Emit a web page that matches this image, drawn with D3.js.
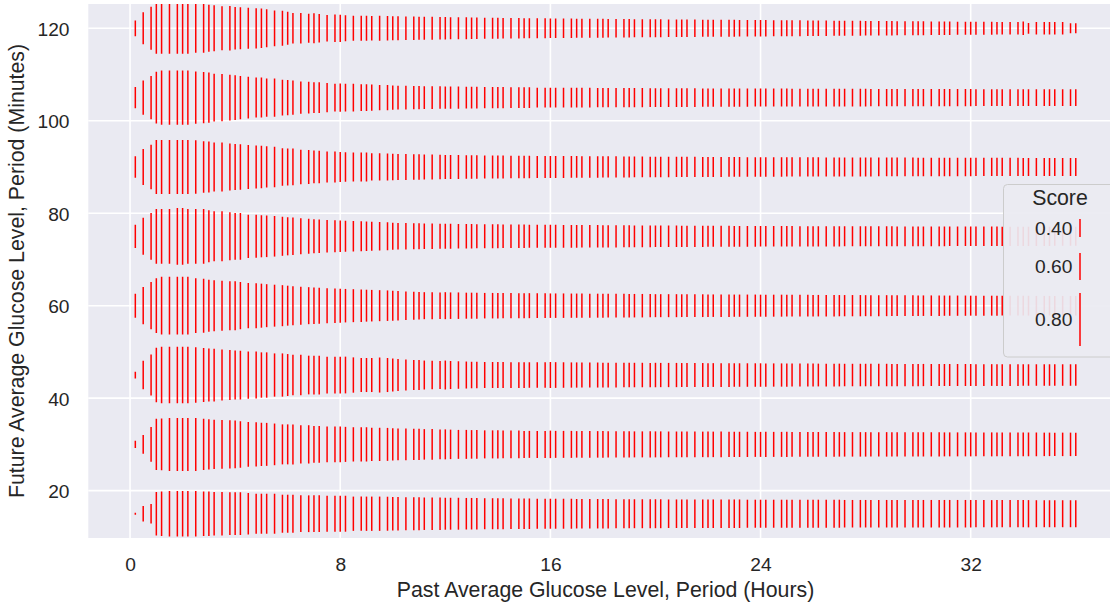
<!DOCTYPE html>
<html>
<head>
<meta charset="utf-8">
<script src="https://cdn.jsdelivr.net/npm/d3@7"></script>
<style>
  html, body { margin: 0; padding: 0; background: #ffffff; }
  svg { display: block; }
  text { font-family: "Liberation Sans", Arial, sans-serif; fill: #262626; }
</style>
</head>
<body>
<svg id="chart" width="1110" height="606"></svg>
<script>
// Past averaging period (hours) on the x axis
const periodHours = [
  0.2, 0.5, 0.8,
  1.0, 1.2, 1.5, 1.8, 2.0, 2.2, 2.5, 2.8, 3.0, 3.2, 3.5, 3.8, 4.0, 4.2, 4.5, 4.8,
  5.0, 5.2, 5.5, 5.8, 6.0, 6.2, 6.5, 6.8, 7.0, 7.2, 7.5, 7.8, 8.0, 8.2, 8.5, 8.8,
  9.0, 9.2, 9.5, 9.8, 10.0, 10.2, 10.5, 10.8, 11.0, 11.2, 11.5, 11.8, 12.0, 12.2, 12.5, 12.8,
  13.0, 13.2, 13.5, 13.8, 14.0, 14.2, 14.5, 14.8, 15.0, 15.2, 15.5, 15.8, 16.0, 16.2, 16.5, 16.8,
  17.0, 17.2, 17.5, 17.8, 18.0, 18.2, 18.5, 18.8, 19.0, 19.2, 19.5, 19.8, 20.0, 20.2, 20.5, 20.8,
  21.0, 21.2, 21.5, 21.8, 22.0, 22.2, 22.5, 22.8, 23.0, 23.2, 23.5, 23.8, 24.0, 24.2, 24.5, 24.8,
  25.0, 25.2, 25.5, 25.8, 26.0, 26.2, 26.5, 26.8, 27.0, 27.2, 27.5, 27.8, 28.0, 28.2, 28.5, 28.8,
  29.0, 29.2, 29.5, 29.8, 30.0, 30.2, 30.5, 30.8, 31.0, 31.2, 31.5, 31.8, 32.0, 32.2, 32.5, 32.8,
  33.0, 33.2, 33.5, 33.8, 34.0, 34.2, 34.5, 34.8, 35.0, 35.2, 35.5, 35.8, 36.0
];

// Future averaging period (minutes) on the y axis
const futureMinutes = [15, 30, 45, 60, 75, 90, 105, 120];

// Score for each (past, future) pair, one array per future period
const score15 = [
  .044, .34, .429, .727, .735, .742, .742, .742, .742, .742, .735, .735, .727, .727, .721, .721, .721, .710, .7,
  .7, .7, .7, .685, .685, .685, .675, .675, .675, .675, .669, .669, .669, .669, .656, .656,
  .656, .656, .656, .654,
  .650, .650, .646, .646, .646, .642, .642, .642, .638, .638, .638, .635,
  .635, .635, .631, .631, .631, .631, .627, .627, .627, .627, .623, .623, .623, .623, .623, .623,
  .619, .619, .619, .619, .619, .619, .615, .615, .615, .615, .615, .615, .615, .615, .612, .612,
  .612, .612, .612, .612, .612, .612, .612, .612, .612, .612, .608, .608, .608, .608, .608, .608,
  .608, .608, .608, .608, .608, .608, .608, .608, .608, .604, .604, .604, .604, .604, .604, .604,
  .604, .604, .604, .604, .604, .604, .604, .604, .604, .604, .604, .604, .604, .602, .602, .602,
  .602, .602, .602, .602, .602, .602, .6, .6, .6, .6, .6, .6, .6
];
const score30 = [
  .16, .422, .659, .785, .792, .8, .8, .8, .8, .8, .785, .777, .773, .769, .762, .758, .750, .738, .731,
  .725, .723, .713, .7, .7, .7, .687, .687, .675, .675, .669, .669, .669, .662, .656, .656,
  .656, .648, .648, .646,
  .642, .638, .635, .631, .631, .627, .627, .623, .623, .619, .615, .615,
  .612, .612, .608, .608, .608, .604, .604, .604, .6, .6, .6, .6, .604, .6, .6, .6,
  .589, .589, .589, .589, .589, .583, .583, .583, .583, .578, .578, .578, .578, .578, .572, .572,
  .572, .572, .567, .567, .567, .567, .567, .561, .561, .561, .561, .556, .556, .556, .556, .556,
  .556, .55, .55, .55, .55, .55, .55, .55, .544, .544, .544, .544, .544, .544, .544, .544,
  .539, .539, .539, .539, .539, .539, .539, .539, .533, .533, .533, .533, .533, .533, .533, .533,
  .528, .528, .528, .528, .528, .528, .528, .522, .522, .522, .522, .522, .522
];
const score45 = [
  .149, .612, .708, .813, .828, .828, .828, .828, .828, .818, .808, .8, .798, .785, .777, .769, .767, .756, .754,
  .741, .741, .725, .725, .715, .705, .705, .690, .690, .690, .675, .675, .675, .675, .664, .654,
  .654, .654, .662, .654,
  .646, .638, .631, .623, .623, .615, .612, .608, .615, .608, .604, .6,
  .589, .589, .578, .578, .578, .578, .572, .572, .572, .567, .567, .567, .578, .572, .567, .561,
  .561, .556, .556, .556, .55, .55, .55, .544, .544, .544, .544, .539, .544, .539, .539, .539,
  .533, .533, .533, .533, .528, .528, .528, .528, .522, .522, .522, .522, .522, .517, .517, .517,
  .517, .511, .511, .511, .511, .506, .506, .506, .506, .5, .5, .5, .5, .5, .5, .5,
  .494, .494, .494, .494, .494, .494, .489, .489, .489, .489, .489, .489, .489, .483, .483, .483,
  .483, .483, .483, .483, .478, .478, .478, .478, .478, .478, .478, .478, .478
];
const score60 = [
  .533, .679, .756, .813, .836, .836, .836, .836, .836, .813, .808, .792, .785, .777, .769, .769, .756, .741, .738,
  .731, .723, .715, .708, .700, .692, .685, .677, .673, .669, .662, .658, .654, .650, .646, .642,
  .638, .635, .631, .627,
  .623, .619, .612, .608, .604, .6, .6, .589, .6, .589, .589, .578,
  .578, .578, .567, .567, .567, .561, .561, .556, .556, .556, .55, .55, .544, .544, .544, .539,
  .539, .539, .533, .533, .533, .528, .528, .528, .522, .522, .522, .517, .511, .511, .511, .511,
  .506, .506, .506, .506, .5, .5, .5, .5, .494, .494, .494, .494, .489, .489, .489, .489,
  .483, .483, .483, .483, .478, .478, .478, .478, .472, .472, .472, .472, .467, .467, .467, .467,
  .461, .461, .461, .461, .456, .456, .456, .456, .45, .45, .45, .45, .444, .444, .444, .444,
  .444, .439, .439, .439, .439, .439, .433, .433, .433, .433, .433, .433, .433
];
const score75 = [
  .518, .677, .752, .813, .813, .813, .828, .828, .813, .813, .813, .792, .777, .777, .762, .752, .752, .725, .723,
  .715, .712, .704, .692, .685, .681, .669, .662, .654, .650, .642, .638, .635, .631, .627, .623,
  .619, .615, .612, .608,
  .6, .589, .589, .578, .578, .567, .567, .556, .556, .556, .544, .544,
  .544, .533, .533, .533, .533, .522, .522, .522, .522, .511, .511, .511, .511, .511, .506, .506,
  .506, .5, .5, .5, .494, .494, .494, .489, .489, .483, .483, .483, .478, .478, .478, .478,
  .472, .472, .472, .472, .467, .467, .467, .467, .461, .461, .461, .461, .456, .456, .456, .456,
  .456, .456, .45, .45, .45, .45, .45, .45, .45, .444, .444, .444, .444, .444, .444, .444,
  .444, .439, .439, .439, .439, .439, .439, .439, .439, .433, .433, .433, .433, .433, .433, .433,
  .433, .428, .428, .428, .428, .428, .428, .428, .428, .422, .422, .422, .422
];
const score90 = [
  .478, .669, .735, .808, .808, .808, .808, .808, .808, .805, .787, .785, .769, .769, .754, .746, .742, .731, .723,
  .718, .710, .704, .682, .677, .675, .659, .654, .644, .642, .631, .631, .623, .619, .615, .615,
  .615, .602, .602, .6,
  .589, .578, .578, .567, .567, .556, .556, .544, .533, .533, .533, .522,
  .522, .522, .511, .511, .511, .511, .5, .5, .5, .5, .489, .489, .489, .489, .489, .483,
  .483, .478, .478, .478, .472, .472, .472, .467, .467, .461, .461, .456, .456, .456, .456, .45,
  .45, .45, .45, .444, .444, .444, .444, .439, .439, .439, .433, .433, .433, .433, .433, .433,
  .428, .428, .428, .428, .428, .428, .422, .422, .422, .422, .422, .422, .422, .422, .417, .417,
  .417, .417, .417, .417, .411, .411, .411, .411, .411, .411, .411, .411, .411, .406, .406, .406,
  .406, .406, .406, .406, .4, .4, .4, .4, .4, .4, .4, .4, .4
];
const score105 = [
  .467, .656, .725, .790, .810, .810, .810, .810, .810, .795, .785, .777, .759, .754, .744, .736, .725, .713, .700,
  .700, .687, .687, .669, .662, .656, .641, .638, .628, .627, .618, .605, .608, .604, .604, .593,
  .593, .578, .556, .556,
  .544, .533, .533, .522, .522, .511, .511, .5, .489, .489, .489, .478,
  .478, .478, .467, .467, .467, .467, .456, .456, .456, .456, .444, .444, .444, .444, .444, .444,
  .439, .439, .439, .433, .433, .433, .433, .433, .428, .428, .428, .422, .422, .422, .422, .422,
  .417, .417, .417, .411, .411, .411, .411, .411, .406, .406, .406, .4, .4, .4, .4, .4,
  .4, .394, .394, .394, .394, .394, .389, .389, .389, .389, .389, .389, .389, .383, .383, .383,
  .383, .383, .383, .378, .378, .378, .378, .378, .378, .378, .378, .378, .378, .372, .372, .372,
  .372, .372, .372, .372, .372, .372, .371, .371, .371, .371, .371, .371, .371
];
const score120 = [
  .349, .638, .723, .785, .785, .785, .785, .785, .785, .769, .769, .754, .746, .731, .735, .719, .715, .708, .702,
  .695, .685, .667, .662, .646, .628, .628, .615, .623, .613, .593, .605, .602, .578, .556, .556,
  .556, .540, .556, .544,
  .533, .533, .522, .522, .511, .511, .511, .5, .5, .489, .489, .489,
  .478, .478, .467, .467, .467, .456, .456, .456, .444, .444, .444, .444, .433, .433, .433, .433,
  .422, .422, .422, .422, .422, .411, .411, .411, .411, .4, .4, .4, .4, .4, .389, .389,
  .389, .389, .389, .378, .378, .378, .378, .378, .378, .367, .367, .367, .367, .367, .356, .356,
  .356, .356, .356, .344, .344, .344, .344, .333, .333, .333, .333, .333, .322, .322, .322, .322,
  .322, .311, .311, .311, .311, .311, .3, .3, .3, .3, .289, .289, .289, .289, .289, .289,
  .282, .282, .282, .282, .296, .238, .282, .282, .282, .282, .282, .222, .222
];

const scoreRows = [score15, score30, score45, score60, score75, score90, score105, score120];

const xTickValues = [0, 8, 16, 24, 32];
const yTickValues = [20, 40, 60, 80, 100, 120];
const legendScores = [0.40, 0.60, 0.80];

const xTitle = "Past Average Glucose Level, Period (Hours)";
const yTitle = "Future Average Glucose Level, Period (Minutes)";
const legendTitle = "Score";

// ---- layout -------------------------------------------------------------
const plot = { left: 88.3, top: 4, right: 1122.8, bottom: 538 };
const tickFont = 19.2, labelFont = 21.3;

const svg = d3.select("#chart");

// 5% padding around the data on both axes
const xExt = d3.extent(periodHours), yExt = d3.extent(futureMinutes);
const xPad = (xExt[1] - xExt[0]) * 0.05, yPad = (yExt[1] - yExt[0]) * 0.05;
const x = d3.scaleLinear().domain([xExt[0] - xPad, xExt[1] + xPad]).range([plot.left, plot.right]);
const y = d3.scaleLinear().domain([yExt[0] - yPad, yExt[1] + yPad]).range([plot.bottom, plot.top]);

// score -> marker length in pixels
const size = d3.scaleLinear().domain([0, 0.6, 0.8]).range([0, 27, 53]);

svg.append("defs").append("clipPath").attr("id", "plot-clip")
  .append("rect")
  .attr("x", plot.left).attr("y", plot.top)
  .attr("width", plot.right - plot.left).attr("height", plot.bottom - plot.top);

svg.append("rect")
  .attr("x", plot.left).attr("y", plot.top)
  .attr("width", plot.right - plot.left).attr("height", plot.bottom - plot.top)
  .attr("fill", "#EAEAF2");

// grid
const grid = svg.append("g").attr("stroke", "#ffffff").attr("stroke-width", 1.6);
grid.selectAll("line.gx").data(xTickValues).join("line")
  .attr("x1", d => x(d)).attr("x2", d => x(d))
  .attr("y1", plot.top).attr("y2", plot.bottom);
grid.selectAll("line.gy").data(yTickValues).join("line")
  .attr("x1", plot.left).attr("x2", plot.right)
  .attr("y1", d => y(d)).attr("y2", d => y(d));

// axes (labels only, no domain line or ticks)
const xAxis = d3.axisBottom(x).tickValues(xTickValues).tickSize(0).tickPadding(0).tickFormat(d3.format("d"));
const yAxis = d3.axisLeft(y).tickValues(yTickValues).tickSize(0).tickPadding(0).tickFormat(d3.format("d"));

const gx = svg.append("g").attr("transform", `translate(0,${plot.bottom})`).call(xAxis);
gx.select(".domain").remove();
gx.selectAll("text")
  .attr("font-size", tickFont).attr("font-family", null).attr("fill", "#262626")
  .attr("dy", null).attr("y", 32.5);

const gy = svg.append("g").attr("transform", `translate(${plot.left},0)`).call(yAxis);
gy.select(".domain").remove();
gy.selectAll("text")
  .attr("font-size", tickFont).attr("font-family", null).attr("fill", "#262626")
  .attr("x", -18.8).attr("dy", null).attr("y", tickFont * 0.358);

// marks
const points = futureMinutes.flatMap((m, i) =>
  periodHours.map((p, j) => ({ past: p, future: m, score: scoreRows[i][j] })));

svg.append("g").attr("clip-path", "url(#plot-clip)")
  .attr("stroke", "#ff0000").attr("stroke-width", 1.5)
  .selectAll("line").data(points).join("line")
  .attr("x1", d => x(d.past)).attr("x2", d => x(d.past))
  .attr("y1", d => y(d.future) - size(d.score) / 2)
  .attr("y2", d => y(d.future) + size(d.score) / 2);

// axis titles
svg.append("text")
  .attr("x", (plot.left + plot.right) / 2).attr("y", 597)
  .attr("text-anchor", "middle").attr("font-size", labelFont)
  .text(xTitle);

svg.append("text")
  .attr("transform", `translate(24,${(plot.top + plot.bottom) / 2}) rotate(-90)`)
  .attr("text-anchor", "middle").attr("font-size", labelFont)
  .text(yTitle);

// legend
const lg = svg.append("g");
lg.append("rect")
  .attr("x", 1003.5).attr("y", 184.5).attr("width", 113).attr("height", 172.5)
  .attr("rx", 4).attr("ry", 4)
  .attr("fill", "#EAEAF2").attr("fill-opacity", 0.92)
  .attr("stroke", "#cccccc").attr("stroke-width", 1);
lg.append("text")
  .attr("x", 1060).attr("y", 205)
  .attr("text-anchor", "middle").attr("font-size", labelFont)
  .text(legendTitle);

const legendY = [228, 266.5, 319.5];
const items = lg.selectAll("g.item").data(legendScores).join("g").attr("class", "item");
items.append("text")
  .attr("x", 1035).attr("y", (d, i) => legendY[i] + tickFont * 0.358)
  .attr("font-size", tickFont)
  .text(d => d3.format(".2f")(d));
items.append("line")
  .attr("stroke", "#ff0000").attr("stroke-width", 1.5)
  .attr("x1", 1080).attr("x2", 1080)
  .attr("y1", (d, i) => legendY[i] - size(d) / 2)
  .attr("y2", (d, i) => legendY[i] + size(d) / 2);
</script>
</body>
</html>
